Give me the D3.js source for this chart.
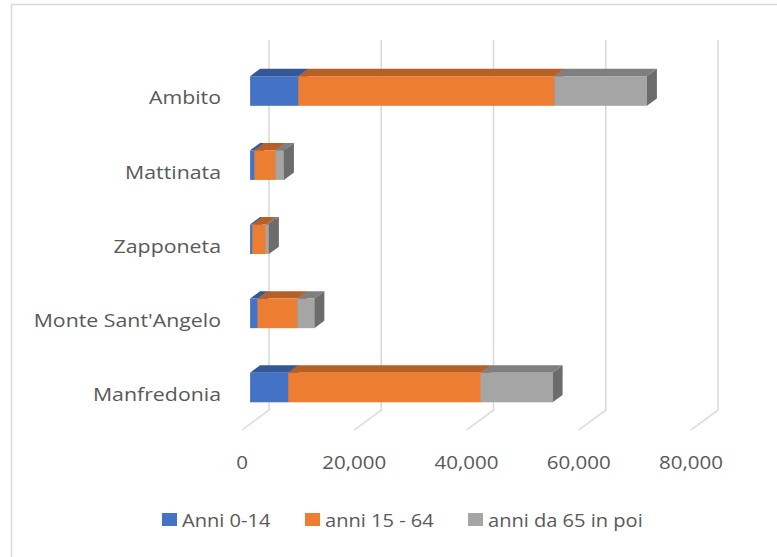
<!DOCTYPE html>
<html>
<head>
<meta charset="utf-8">
<script src="https://cdn.jsdelivr.net/npm/d3@7"></script>
<style>
  body { margin: 0; background: #fff; }
  svg { display: block; }
</style>
</head>
<body>
<svg id="chart" width="777" height="557"></svg>
<script>
// Population by age band
const categories = ["Ambito", "Mattinata", "Zapponeta", "Monte Sant'Angelo", "Manfredonia"];
const seriesNames = ["Anni 0-14", "anni 15 - 64", "anni da 65 in poi"];
const anni0_14 = [8600, 780, 400, 1350, 6800];
const anni15_64 = [45600, 3700, 2400, 7050, 34300];
const anni65 = [16500, 1550, 550, 3050, 12800];
const xTicks = [0, 20000, 40000, 60000, 80000];
const colors = ["#4472C4", "#ED7D31", "#A5A5A5"];

const svg = d3.select("#chart");
const textColor = "#595959";
const font = "'Open Sans', sans-serif";
const sx = 1.14; // horizontal text stretch seen in the reference

// chart border
svg.append("rect")
    .attr("x", 11.5).attr("y", 4.5)
    .attr("width", 800).attr("height", 600)
    .attr("fill", "#fff").attr("stroke", "#d9d9d9").attr("stroke-width", 1.5);

// back wall scale, plus an oblique depth vector toward the viewer
const x = d3.scaleLinear().domain([0, 80000]).range([269, 718]);
const DX = -27, DY = 20;
const wallTop = 40, wallBottom = 410;
const dFront = 0.70, dBack = 0.33;

const y = d3.scalePoint().domain(categories).range([91, 387.5]);
const barH = 29.6;

// gridlines on the back wall + floor slant
const grid = svg.append("g").attr("stroke", "#d9d9d9").attr("stroke-width", 1.5).attr("fill", "none");
xTicks.forEach(t => {
    grid.append("path")
        .attr("d", `M${x(t)},${wallTop}L${x(t)},${wallBottom}L${x(t) + DX},${wallBottom + DY}`);
});

function stretchedText(sel, tx, ty, str, size, anchor) {
    return sel.append("text")
        .attr("transform", `translate(${tx},${ty}) scale(${sx},1)`)
        .attr("text-anchor", anchor)
        .attr("dominant-baseline", "central")
        .attr("font-family", font)
        .attr("font-size", size)
        .attr("fill", textColor)
        .text(str);
}

// tick labels on the front edge
const fmt = d3.format(",");
xTicks.forEach(t => stretchedText(svg, x(t) + DX, 462, fmt(t), 18, "middle"));

// category labels
categories.forEach(c => stretchedText(svg, 221, y(c) + 6.5, c, 18.7, "end"));

// stacked 3D bars
const rows = categories.map((c, i) => ({
    cat: c, a: anni0_14[i], b: anni15_64[i], c65: anni65[i]
}));
const stack = d3.stack().keys(["a", "b", "c65"])(rows);

const xf = v => x(v) + dFront * DX;
const xb = v => x(v) + dBack * DX;
const ddy = (dFront - dBack) * DY;

const bars = svg.append("g");
categories.forEach((c, i) => {
    const yT = y(c) - barH / 2, yB = y(c) + barH / 2;
    stack.forEach((s, k) => {
        const [v0, v1] = s[i];
        const col = d3.color(colors[k]);
        bars.append("polygon")
            .attr("points", [[xf(v0), yT], [xf(v1), yT], [xb(v1), yT - ddy], [xb(v0), yT - ddy]].join(" "))
            .attr("fill", col.darker(0.73));
        bars.append("rect")
            .attr("x", xf(v0)).attr("y", yT)
            .attr("width", xf(v1) - xf(v0)).attr("height", barH)
            .attr("fill", col);
        bars.append("polygon")
            .attr("points", [[xf(v1), yT], [xb(v1), yT - ddy], [xb(v1), yB - ddy], [xf(v1), yB]].join(" "))
            .attr("fill", col.darker(1.2));
    });
});

// legend
const legendX = [162, 305, 468];
const legend = svg.append("g");
seriesNames.forEach((n, k) => {
    legend.append("rect")
        .attr("x", legendX[k]).attr("y", 513)
        .attr("width", 15).attr("height", 13)
        .attr("fill", colors[k]);
    stretchedText(legend, legendX[k] + 20, 520, n, 17.6, "start");
});
</script>
</body>
</html>
